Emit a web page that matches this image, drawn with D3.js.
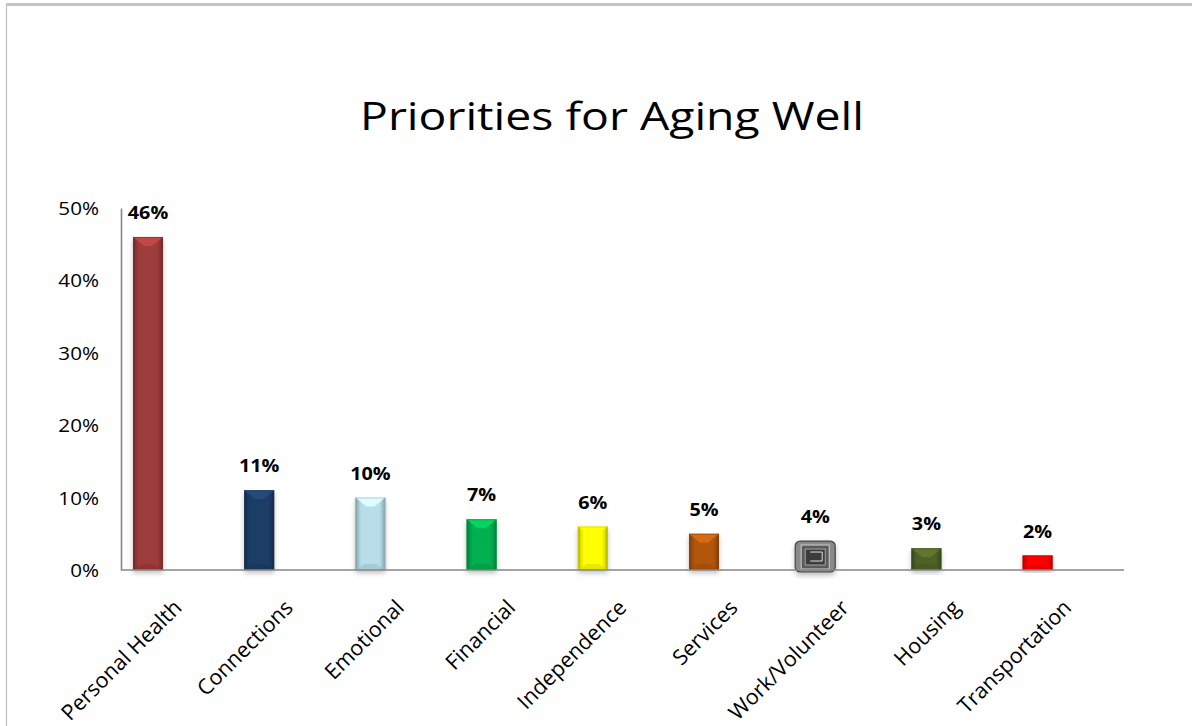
<!DOCTYPE html>
<html>
<head>
<meta charset="utf-8">
<script src="https://cdn.jsdelivr.net/npm/d3@7"></script>
<style>
  html, body { margin: 0; padding: 0; background: #fff; }
  svg { display: block; }
  text { font-family: "Open Sans", "Noto Sans", sans-serif; fill: #000; }
</style>
</head>
<body>
<svg id="chart" width="1192" height="726"></svg>
<script>
// ---- data ----
const categories = ["Personal Health", "Connections", "Emotional", "Financial", "Independence", "Services", "Work/Volunteer", "Housing", "Transportation"];
const values = [0.46, 0.11, 0.10, 0.07, 0.06, 0.05, 0.04, 0.03, 0.02];
const barColors = ["#9e3b3a", "#1f3d66", "#b8dfe9", "#00b050", "#ffff00", "#b2570f", "#7f7f7f", "#4f6228", "#ff0000"];
const yTicks = [0, 0.1, 0.2, 0.3, 0.4, 0.5];
const titleText = "Priorities for Aging Well";

// ---- layout ----
const svg = d3.select("#chart");
const W = 1192, H = 726;

// frame
svg.append("rect").attr("x", 6.5).attr("y", 4.5).attr("width", W + 10).attr("height", H + 10)
  .attr("fill", "#fff").attr("stroke", "#bfbfbf").attr("stroke-width", 1.2);
svg.append("line").attr("x1", 6).attr("x2", W).attr("y1", 4.5).attr("y2", 4.5)
  .attr("stroke", "#c4c4c4").attr("stroke-width", 3);

const y = d3.scaleLinear().domain([0, 0.5]).range([570, 208]);
const x = d3.scaleBand().domain(categories).range([92.4, 1093.2]).paddingInner(0.73).paddingOuter(0.365);
const bw = x.bandwidth();

const defs = svg.append("defs");
const sideGrad = defs.append("linearGradient").attr("id", "side").attr("x1", 0).attr("x2", 1).attr("y1", 0).attr("y2", 0);
[[0, 0.35], [0.1, 0.12], [0.2, 0], [0.8, 0], [0.9, 0.12], [1, 0.35]].forEach(([o, a]) =>
  sideGrad.append("stop").attr("offset", o).attr("stop-color", "#000").attr("stop-opacity", a));
const shadow = defs.append("filter").attr("id", "shadow").attr("x", "-30%").attr("y", "-10%").attr("width", "160%").attr("height", "130%");
shadow.append("feDropShadow").attr("dx", 0).attr("dy", 3).attr("stdDeviation", 2.5)
  .attr("flood-color", "#000").attr("flood-opacity", 0.25);

// title
svg.append("g").attr("transform", "translate(612,130) scale(1.22,1)")
  .append("text").attr("text-anchor", "middle").attr("font-size", 38).text(titleText);

// y axis
const yAxis = svg.append("g").attr("transform", "translate(121,0)")
  .call(d3.axisLeft(y).tickValues(yTicks).tickFormat(d3.format(".0%")).tickSize(0).tickSizeOuter(0));
yAxis.select(".domain").attr("stroke", "#868686").attr("stroke-width", 1.6);
yAxis.selectAll(".tick text")
  .attr("x", null).attr("dy", null)
  .attr("dominant-baseline", "central")
  .attr("transform", "translate(-22,0) scale(1.18,1)")
  .attr("text-anchor", "end")
  .attr("font-family", "'Open Sans', sans-serif")
  .attr("font-size", 17.5).attr("fill", "#000");

// bars
const bars = svg.append("g").selectAll("g").data(categories).join("g")
  .attr("transform", d => `translate(${x(d)},0)`);

bars.each(function (d, i) {
  const g = d3.select(this);
  const v = values[i];
  const yT = y(v), yB = y(0), h = yB - yT;
  const c = d3.color(barColors[i]);
  if (d === "Work/Volunteer") {
    const w2 = bw + 10, x0 = -5;
    g.append("rect").attr("x", x0).attr("y", yT).attr("width", w2).attr("height", h + 2)
      .attr("rx", 5).attr("fill", "#8a8a8a").attr("stroke", "#444").attr("stroke-width", 1.2)
      .attr("filter", "url(#shadow)");
    g.append("rect").attr("x", x0 + 6).attr("y", yT + 4).attr("width", w2 - 12).attr("height", h - 5)
      .attr("fill", "#5a5a5a").attr("stroke", "#d0d0d0").attr("stroke-width", 1);
    g.append("rect").attr("x", x0 + 10).attr("y", yT + 8).attr("width", w2 - 20).attr("height", h - 13)
      .attr("fill", "#3c3c3c").attr("stroke", "#bbb").attr("stroke-width", 0.8);
    g.append("path").attr("d", `M${x0 + 15},${yT + 11} h${w2 - 28} v${h - 20} h${-(w2 - 28)}`)
      .attr("fill", "none").attr("stroke", "#ddd").attr("stroke-width", 1);
    return;
  }
  g.append("rect").attr("x", 0).attr("y", yT).attr("width", bw).attr("height", h)
    .attr("fill", c.formatHex()).attr("filter", "url(#shadow)");
  g.append("rect").attr("x", 0).attr("y", yT).attr("width", bw).attr("height", h)
    .attr("fill", "url(#side)");
  const bt = Math.min(9, h / 2.2), bb = Math.min(6, h / 3);
  g.append("path")
    .attr("d", `M0,${yT} L${bw},${yT} L${bw - 11},${yT + bt} L11,${yT + bt} Z`)
    .attr("fill", c.brighter(0.6).formatHex()).attr("opacity", 0.9);
  g.append("path")
    .attr("d", `M0,${yB} L${bw},${yB} L${bw - 9},${yB - bb} L9,${yB - bb} Z`)
    .attr("fill", c.darker(0.4).formatHex()).attr("opacity", 0.7);
  g.append("rect").attr("x", 0.5).attr("y", yT + 0.5).attr("width", bw - 1).attr("height", h - 1)
    .attr("fill", "none").attr("stroke", c.darker(0.5).formatHex()).attr("stroke-width", 1).attr("opacity", 0.6);
});

// x axis line
svg.append("line").attr("x1", 121).attr("x2", 1124).attr("y1", y(0)).attr("y2", y(0))
  .attr("stroke", "#868686").attr("stroke-width", 1.6);

// data labels
svg.append("g").selectAll("g").data(categories).join("g")
  .attr("transform", (d, i) => `translate(${x(d) + bw / 2},${y(values[i]) - 18}) scale(1.1,1)`)
  .append("text").attr("text-anchor", "middle").attr("font-weight", "bold").attr("font-size", 18)
  .text((d, i) => d3.format(".0%")(values[i]));

// category labels
svg.append("g").selectAll("text").data(categories).join("text")
  .attr("transform", d => `translate(${x(d) + bw / 2 + 35},609) rotate(-45)`)
  .attr("text-anchor", "end").attr("font-size", 21.5).text(d => d);
</script>
</body>
</html>
